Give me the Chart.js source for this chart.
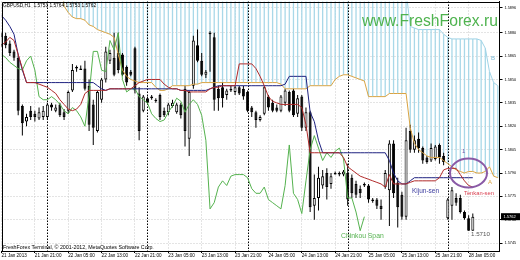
<!DOCTYPE html>
<html><head><meta charset="utf-8">
<script src="https://cdn.jsdelivr.net/npm/chart.js@4.4.1/dist/chart.umd.min.js"></script>
<style>html,body{margin:0;padding:0;background:#fff;}canvas{display:block;}</style>
</head><body>
<canvas id="c" width="520" height="260" style="width:520px;height:260px"></canvas>
<script>
// ---- tick labels ----
const dateLabels = ["21 Jan 2013","21 Jan 21:00","22 Jan 05:00","22 Jan 13:00","22 Jan 21:00","23 Jan 05:00","23 Jan 13:00","23 Jan 21:00","24 Jan 05:00","24 Jan 13:00","24 Jan 21:00","25 Jan 05:00","25 Jan 13:00","25 Jan 21:00","28 Jan 05:00"];
const dateTickBars = [0,8,16,24,32,40,48,56,64,72,80,88,96,104,112];
const daySeparatorBars = [11,35,59,83,107];
const priceTicks = [1.5745,1.5760,1.5775,1.5790,1.5805,1.5820,1.5835,1.5850,1.5865,1.5880,1.5896];

// ---- GBPUSD H1 candles (bar 0 = 21 Jan 13:00) ----
const openP = [
1.5872,1.5878,1.5873,1.5868,1.5864,1.5833,1.5823,1.5830,1.5828,1.5825,
1.5826,1.5826,1.5834,1.5830,1.5834,1.5829,1.5830,1.5843,1.5857,1.5857,
1.5857,1.5846,1.5834,1.5817,1.5837,1.5850,1.5862,1.5864,1.5867,1.5866,
1.5858,1.5855,1.5870,1.5841,1.5830,1.5838,1.5839,1.5837,1.5840,1.5830,
1.5829,1.5833,1.5829,1.5834,1.5844,1.5812,1.5846,1.5872,1.5862,1.5853,
1.5880,1.5877,1.5844,1.5845,1.5840,1.5844,1.5842,1.5845,1.5844,1.5842,
1.5832,1.5829,1.5824,1.5828,1.5839,1.5835,1.5832,1.5830,1.5835,1.5842,
1.5843,1.5828,1.5839,1.5819,1.5829,1.5769,1.5774,1.5782,1.5790,1.5783,
1.5790,1.5790,1.5789,1.5790,1.5787,1.5783,1.5780,1.5783,1.5782,1.5773,
1.5773,1.5769,1.5781,1.5779,1.5809,1.5784,1.5776,1.5762,1.5817,1.5805,
1.5812,1.5806,1.5800,1.5798,1.5799,1.5808,1.5801,1.5761,1.5769,1.5774,
1.5774,1.5765,1.5761,1.5753];
const highP = [
1.5880,1.5880,1.5875,1.5869,1.5866,1.5834,1.5828,1.5833,1.5830,1.5832,
1.5833,1.5835,1.5835,1.5834,1.5835,1.5831,1.5843,1.5860,1.5859,1.5859,
1.5862,1.5850,1.5837,1.5843,1.5851,1.5871,1.5869,1.5880,1.5880,1.5867,
1.5859,1.5856,1.5871,1.5845,1.5840,1.5839,1.5840,1.5838,1.5841,1.5832,
1.5835,1.5837,1.5835,1.5835,1.5846,1.5843,1.5878,1.5882,1.5867,1.5856,
1.5881,1.5880,1.5846,1.5848,1.5844,1.5846,1.5846,1.5846,1.5846,1.5843,
1.5833,1.5830,1.5827,1.5846,1.5840,1.5837,1.5834,1.5840,1.5844,1.5843,
1.5844,1.5840,1.5840,1.5832,1.5830,1.5789,1.5794,1.5792,1.5793,1.5790,
1.5791,1.5791,1.5792,1.5796,1.5789,1.5785,1.5782,1.5784,1.5783,1.5774,
1.5774,1.5773,1.5792,1.5811,1.5811,1.5787,1.5778,1.5819,1.5821,1.5814,
1.5816,1.5807,1.5801,1.5809,1.5808,1.5809,1.5803,1.5774,1.5781,1.5777,
1.5776,1.5766,1.5763,1.5764];
const lowP = [
1.5871,1.5870,1.5865,1.5862,1.5827,1.5814,1.5820,1.5824,1.5823,1.5824,
1.5824,1.5824,1.5830,1.5829,1.5826,1.5824,1.5828,1.5842,1.5855,1.5856,
1.5843,1.5817,1.5808,1.5816,1.5835,1.5848,1.5860,1.5852,1.5854,1.5852,
1.5846,1.5852,1.5841,1.5811,1.5829,1.5834,1.5837,1.5835,1.5824,1.5826,
1.5827,1.5832,1.5828,1.5825,1.5807,1.5801,1.5844,1.5861,1.5852,1.5851,
1.5855,1.5830,1.5830,1.5832,1.5837,1.5842,1.5840,1.5840,1.5837,1.5829,
1.5826,1.5819,1.5823,1.5827,1.5830,1.5829,1.5829,1.5829,1.5833,1.5829,
1.5826,1.5826,1.5817,1.5817,1.5765,1.5760,1.5766,1.5780,1.5773,1.5780,
1.5789,1.5788,1.5788,1.5769,1.5774,1.5774,1.5774,1.5781,1.5771,1.5771,
1.5767,1.5760,1.5780,1.5756,1.5774,1.5755,1.5760,1.5760,1.5803,1.5803,
1.5803,1.5796,1.5796,1.5797,1.5798,1.5796,1.5795,1.5760,1.5760,1.5769,
1.5764,1.5760,1.5753,1.5753];
const closeP = [
1.5878,1.5872,1.5867,1.5864,1.5830,1.5822,1.5826,1.5826,1.5826,1.5829,
1.5830,1.5834,1.5832,1.5832,1.5827,1.5826,1.5842,1.5856,1.5858,1.5856,
1.5844,1.5821,1.5819,1.5842,1.5850,1.5868,1.5867,1.5853,1.5856,1.5853,
1.5848,1.5853,1.5843,1.5817,1.5839,1.5835,1.5838,1.5836,1.5826,1.5827,
1.5834,1.5835,1.5834,1.5827,1.5817,1.5842,1.5875,1.5862,1.5853,1.5855,
1.5879,1.5837,1.5838,1.5838,1.5843,1.5843,1.5845,1.5841,1.5839,1.5830,
1.5829,1.5824,1.5826,1.5845,1.5832,1.5830,1.5830,1.5839,1.5843,1.5830,
1.5827,1.5838,1.5819,1.5829,1.5768,1.5774,1.5787,1.5788,1.5781,1.5788,
1.5789,1.5789,1.5791,1.5773,1.5777,1.5776,1.5777,1.5782,1.5773,1.5772,
1.5769,1.5767,1.5790,1.5809,1.5777,1.5768,1.5762,1.5811,1.5805,1.5811,
1.5806,1.5798,1.5797,1.5806,1.5807,1.5800,1.5797,1.5773,1.5779,1.5771,
1.5765,1.5761,1.5753,1.5762];

// ---- Ichimoku lines ----
const tenkanSen = [
1.5872,1.5874,1.5877,1.5875,1.5866,1.5857,1.5848,1.5848,1.5848,1.5847,
1.5846,1.5845,1.5843,1.5841,1.5837,1.5834,1.5831,1.5830,1.5831,1.5834,
1.5841,1.5843,1.5843,1.5843,1.5843,1.5843,1.5844,1.5844,1.5844,1.5844,
1.5844,1.5844,1.5846,1.5848,1.5849,1.5850,1.5850,1.5850,1.5850,1.5847,
1.5845,1.5844,1.5844,1.5843,1.5843,1.5842,1.5842,1.5842,1.5842,1.5842,
1.5844,1.5845,1.5845,1.5846,1.5846,1.5846,1.5846,1.5860,1.5860,1.5860,
1.5860,1.5857,1.5852,1.5846,1.5839,1.5836,1.5835,1.5834,1.5834,1.5834,
1.5834,1.5834,1.5832,1.5821,1.5803,1.5803,1.5803,1.5803,1.5803,1.5803,
1.5803,1.5803,1.5800,1.5794,1.5792,1.5790,1.5788,1.5787,1.5786,1.5785,
1.5784,1.5783,1.5781,1.5789,1.5783,1.5783,1.5783,1.5783,1.5784,1.5785,
1.5785,1.5785,1.5785,1.5785,1.5785,1.5787,1.5792,1.5793,1.5793,1.5793,
1.5789,1.5785,1.5782,1.5781];
const kijunSen = [
1.5891,1.5888,1.5884,1.5879,1.5866,1.5856,1.5848,1.5848,1.5848,1.5848,
1.5848,1.5848,1.5848,1.5848,1.5848,1.5848,1.5848,1.5848,1.5848,1.5848,
1.5848,1.5848,1.5848,1.5846,1.5844,1.5843,1.5844,1.5844,1.5844,1.5844,
1.5844,1.5844,1.5844,1.5844,1.5844,1.5844,1.5844,1.5844,1.5844,1.5844,
1.5844,1.5844,1.5844,1.5843,1.5843,1.5843,1.5843,1.5843,1.5843,1.5843,
1.5844,1.5845,1.5846,1.5846,1.5846,1.5846,1.5846,1.5846,1.5846,1.5846,
1.5846,1.5846,1.5846,1.5846,1.5846,1.5846,1.5846,1.5846,1.5847,1.5852,
1.5852,1.5852,1.5852,1.5852,1.5829,1.5823,1.5811,1.5803,1.5803,1.5803,
1.5803,1.5803,1.5803,1.5803,1.5803,1.5803,1.5803,1.5803,1.5803,1.5803,
1.5803,1.5803,1.5803,1.5798,1.5790,1.5785,1.5783,1.5783,1.5785,1.5787,
1.5787,1.5787,1.5787,1.5787,1.5787,1.5787,1.5787,1.5787,1.5787,1.5787,
1.5787,1.5787,1.5787,1.5787];
const senkouSpanA = [
1.5920,1.5920,1.5920,1.5920,1.5920,1.5920,1.5920,1.5920,1.5920,1.5920,
1.5920,1.5920,1.5920,1.5920,1.5920,1.5897,1.5893,1.5890,1.5889,1.5889,
1.5888,1.5885,1.5884,1.5882,1.5881,1.5880,1.5879,1.5877,1.5866,1.5856,
1.5852,1.5850,1.5849,1.5848,1.5848,1.5848,1.5848,1.5845,1.5843,1.5843,
1.5844,1.5846,1.5846,1.5846,1.5846,1.5846,1.5847,1.5847,1.5848,1.5848,
1.5848,1.5848,1.5848,1.5848,1.5848,1.5848,1.5848,1.5848,1.5848,1.5848,
1.5848,1.5848,1.5848,1.5848,1.5848,1.5848,1.5848,1.5847,1.5844,1.5844,
1.5844,1.5844,1.5844,1.5844,1.5846,1.5846,1.5846,1.5846,1.5846,1.5846,
1.5850,1.5852,1.5853,1.5853,1.5852,1.5851,1.5850,1.5849,1.5839,1.5839,
1.5839,1.5839,1.5839,1.5841,1.5841,1.5841,1.5841,1.5841,1.5819,1.5809,
1.5805,1.5803,1.5801,1.5800,1.5800,1.5800,1.5798,1.5796,1.5794,1.5792,
1.5791,1.5790,1.5791,1.5791,1.5790,1.5790,1.5791,1.5794,1.5788,1.5787];
const senkouSpanB = [
1.5920,1.5920,1.5920,1.5920,1.5920,1.5920,1.5920,1.5920,1.5920,1.5920,
1.5920,1.5920,1.5920,1.5920,1.5920,1.5920,1.5920,1.5920,1.5920,1.5920,
1.5920,1.5920,1.5920,1.5920,1.5920,1.5920,1.5920,1.5920,1.5920,1.5920,
1.5920,1.5920,1.5920,1.5920,1.5920,1.5920,1.5920,1.5920,1.5920,1.5920,
1.5920,1.5920,1.5920,1.5920,1.5920,1.5920,1.5920,1.5920,1.5920,1.5920,
1.5920,1.5920,1.5920,1.5920,1.5920,1.5920,1.5920,1.5920,1.5920,1.5920,
1.5920,1.5920,1.5920,1.5920,1.5920,1.5920,1.5920,1.5920,1.5920,1.5920,
1.5920,1.5920,1.5920,1.5920,1.5920,1.5920,1.5920,1.5920,1.5920,1.5920,
1.5920,1.5920,1.5920,1.5920,1.5920,1.5920,1.5920,1.5920,1.5920,1.5920,
1.5920,1.5920,1.5920,1.5920,1.5920,1.5920,1.5920,1.5907,1.5884,1.5883,
1.5882,1.5882,1.5882,1.5882,1.5882,1.5882,1.5879,1.5877,1.5876,1.5876,
1.5876,1.5876,1.5876,1.5876,1.5876,1.5875,1.5870,1.5855,1.5848,1.5846];
const chikouSpan = [
1.5866,1.5864,1.5861,1.5859,1.5857,1.5856,1.5862,1.5865,1.5856,1.5839,
1.5837,1.5837,1.5839,1.5837,1.5834,1.5830,1.5828,1.5832,1.5830,1.5826,
1.5820,1.5840,1.5868,1.5868,1.5856,1.5855,1.5875,1.5869,1.5880,1.5850,
1.5842,1.5844,1.5844,1.5839,1.5837,1.5835,1.5828,1.5825,1.5823,1.5824,
1.5829,1.5833,1.5838,1.5836,1.5829,1.5834,1.5837,1.5834,1.5827,1.5811,
1.5767,1.5771,1.5781,1.5785,1.5782,1.5788,1.5789,1.5789,1.5789,1.5787,
1.5780,1.5777,1.5777,1.5781,1.5773,1.5771,1.5769,1.5767,1.5782,1.5808,
1.5777,1.5773,1.5764,1.5785,1.5805,1.5814,1.5806,1.5798,1.5803,1.5800,
1.5804,1.5806,1.5799,1.5774,1.5774,1.5765,1.5753,1.5762];

// ---- build datasets ----
const pts = arr => arr.map((v, i) => ({x: i, y: v}));
const hatchData = senkouSpanA.map((a, i) => ({x: i, y: [a, senkouSpanB[i]]}));
const wickData = highP.map((h, i) => ({x: i, y: [lowP[i], h]}));
const bodyData = openP.map((o, i) => ({x: i, y: [o, closeP[i]]}));
const bodyColors = openP.map((o, i) => closeP[i] > o ? '#ffffff' : '#000000');

const lineDs = (label, data, color, order) => ({
  type: 'line', label, data: pts(data), borderColor: color, borderWidth: 1,
  pointRadius: 0, tension: 0, fill: false, order, spanGaps: false
});

const FONT = 'Liberation Sans';
function separators(chart) {
  const {ctx, chartArea: a, scales: {x}} = chart;
  ctx.save();
  ctx.strokeStyle = '#000'; ctx.lineWidth = 1; ctx.setLineDash([1.5, 1.5]);
  daySeparatorBars.forEach(b => {
    const px = Math.round(x.getPixelForValue(b)) + 0.5;
    ctx.beginPath(); ctx.moveTo(px, a.top); ctx.lineTo(px, a.bottom); ctx.stroke();
  });
  ctx.restore();
}
const overlay = {
  id: 'overlay',
  beforeDraw(chart) {
    const ctx = chart.ctx; ctx.save(); ctx.fillStyle = '#fff';
    ctx.fillRect(0, 0, chart.width, chart.height); ctx.restore();
  },
  afterDatasetDraw(chart, args) { if (args.index === 0) separators(chart); },
  afterDraw(chart) {
    const {ctx, chartArea: a, scales: {y}} = chart;
    ctx.save();
    // frame
    ctx.strokeStyle = '#000'; ctx.lineWidth = 1;
    ctx.beginPath();
    ctx.moveTo(Math.round(a.left) + 0.5, Math.round(a.bottom));
    ctx.lineTo(Math.round(a.left) + 0.5, Math.round(a.top) + 0.5);
    ctx.lineTo(Math.round(a.right), Math.round(a.top) + 0.5);
    ctx.stroke();
    ctx.textBaseline = 'middle'; ctx.textAlign = 'left';
    const txt = (t, x0, y0, size, color) => { ctx.font = size + 'px "' + FONT + '"'; ctx.fillStyle = color; ctx.fillText(t, x0, y0); };
    txt('GBPUSD,H1  1.5753 1.5764 1.5753 1.5762', 3, 6, 4.8, '#000');
    txt('FreshForex Terminal, \u00A9 2001-2012, MetaQuotes Software Corp.', 3, 247.5, 5.3, '#000');
    ctx.textBaseline = 'alphabetic';
    txt('www.FreshForex.ru', 362, 26, 15.7, '#4fb34f');
    ctx.textBaseline = 'middle';
    txt('1.5710', 471, 234, 6.2, '#555');
    txt('Kijun-sen', 412, 191, 6.5, '#3b3b9e');
    txt('Tenkan-sen', 464, 193, 5.8, '#d94050');
    txt('Chinkou Span', 341, 236.5, 6.8, '#55b24f');
    txt('1', 462, 151, 6, '#7a5aa8');
    txt('B', 491, 58, 6, '#78b8d4');
    txt('A', 488, 182, 6, '#d9a443');
    // ellipse
    ctx.strokeStyle = '#8a5aa6'; ctx.lineWidth = 2;
    ctx.beginPath(); ctx.ellipse(468.5, 173, 18.5, 14.5, 0, 0, Math.PI * 2); ctx.stroke();
    // current price box
    const last = closeP[closeP.length - 1];
    const py = y.getPixelForValue(last);
    ctx.fillStyle = '#000'; ctx.fillRect(501, py - 3.5, 19, 7);
    txt(last.toFixed(4), 503.5, py, 4, '#fff');
    ctx.restore();
  }
};

new Chart(document.getElementById('c'), {
  type: 'bar',
  data: {
    datasets: [
      {type: 'bar', label: 'Cloud', data: hatchData, backgroundColor: '#a9d8e8', borderWidth: 0,
       barThickness: 1.3, grouped: false, inflateAmount: 0, order: 10},
      {type: 'bar', label: 'Wicks', data: wickData, backgroundColor: '#000', borderWidth: 0,
       barThickness: 1, grouped: false, inflateAmount: 0, order: 8},
      {type: 'bar', label: 'Bodies', data: bodyData, backgroundColor: bodyColors, borderColor: '#000',
       borderWidth: 1, borderSkipped: false, barThickness: 3, minBarLength: 1, grouped: false, inflateAmount: 0, order: 7},
      lineDs('Senkou Span B', senkouSpanB, '#9fd3e6', 6),
      lineDs('Senkou Span A', senkouSpanA, '#d9a443', 5),
      lineDs('Chinkou Span', chikouSpan, '#55b24f', 4),
      lineDs('Kijun-sen', kijunSen, '#1f2280', 3),
      lineDs('Tenkan-sen', tenkanSen, '#b02a2a', 2)
    ]
  },
  options: {
    responsive: false, animation: false, devicePixelRatio: 1, events: [],
    layout: {padding: {left: 1.5, top: 1.5, right: 0, bottom: 0}},
    plugins: {legend: {display: false}, tooltip: {enabled: false}},
    scales: {
      x: {
        type: 'linear', min: 0, max: 119.4, offset: false,
        grid: {color: '#c8c8c8', lineWidth: 1, offset: false, drawTicks: true, tickLength: 2, tickColor: '#000'},
        border: {display: true, color: '#000', width: 1, dash: [1, 2]},
        ticks: {autoSkip: false, maxRotation: 0, minRotation: 0, align: 'start', padding: 0,
                font: {family: FONT, size: 4.6}, color: '#000',
                callback: (v, i) => dateLabels[i]},
        afterBuildTicks: s => { s.ticks = dateTickBars.map(v => ({value: v})); },
        afterFit: s => { s.height = 9; s.paddingLeft = 0; s.paddingRight = 0; }
      },
      y: {
        type: 'linear', position: 'right', min: 1.5740, max: 1.5900, beginAtZero: false,
        grid: {color: '#c8c8c8', lineWidth: 1, drawTicks: true, tickLength: 3, tickColor: '#000'},
        border: {display: true, color: '#000', width: 1, dash: [1, 2]},
        ticks: {padding: 2, font: {family: FONT, size: 3.8}, color: '#000',
                callback: v => v.toFixed(4)},
        afterBuildTicks: s => { s.ticks = priceTicks.map(v => ({value: v})); },
        afterFit: s => { s.width = 20.5; s.paddingTop = 0; s.paddingBottom = 0; }
      }
    }
  },
  plugins: [overlay]
});
</script>
</body></html>
